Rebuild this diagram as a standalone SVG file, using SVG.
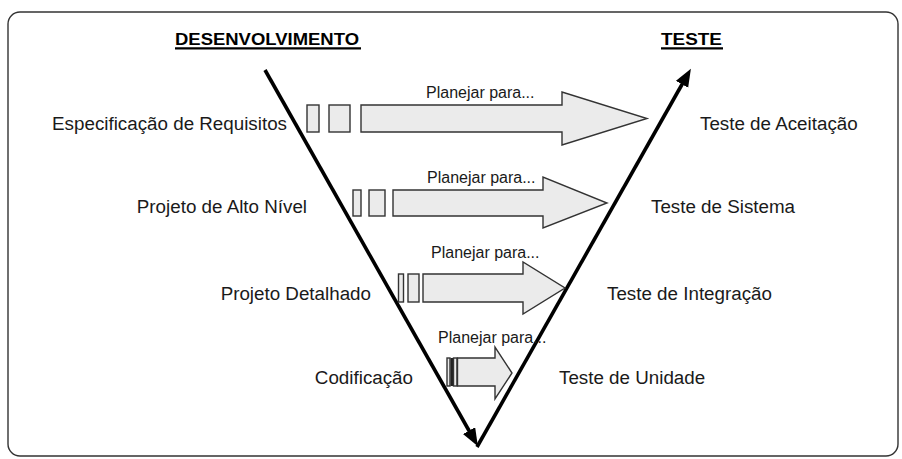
<svg xmlns="http://www.w3.org/2000/svg" width="902" height="459" viewBox="0 0 902 459">
<defs>
<style>
.lbl{font-family:"Liberation Sans",Arial,sans-serif;font-size:18.8px;fill:#1a1a1a}
.plan{font-family:"Liberation Sans",Arial,sans-serif;font-size:16px;fill:#1a1a1a}
.hdr{font-family:"Liberation Sans",Arial,sans-serif;font-size:16.5px;font-weight:bold;fill:#000}
.ul{stroke:#000;stroke-width:2.2}
.box{fill:#ebebeb;stroke:#333;stroke-width:1.4}
.arr{fill:#ebebeb;stroke:#333;stroke-width:1.4;stroke-linejoin:miter}
.vline{fill:none;stroke:#000;stroke-width:3.6}
</style>
<marker id="head" markerUnits="userSpaceOnUse" markerWidth="20" markerHeight="16" refX="5" refY="7" orient="auto">
<path d="M0,0 L18,7 L0,14 z" fill="#000"/>
</marker>
</defs>
<rect x="8" y="12" width="890" height="444" rx="12" ry="12" fill="#fff" stroke="#333" stroke-width="1.4"/>
<g id="hdr-dev">
<text class="hdr" x="175" y="44.5" textLength="184" lengthAdjust="spacingAndGlyphs">DESENVOLVIMENTO</text>
<line class="ul" x1="175" y1="48.3" x2="361" y2="48.3"/>
</g>
<g id="hdr-test">
<text class="hdr" x="661" y="44.5" textLength="61" lengthAdjust="spacingAndGlyphs">TESTE</text>
<line class="ul" x1="661" y1="48.3" x2="723" y2="48.3"/>
</g>
<g id="connectors">
<path class="vline" d="M265,70 L471.5,435" marker-end="url(#head)"/>
<path class="vline" d="M477,447 L684.5,80" marker-end="url(#head)"/>
</g>
<g id="row1">
<text class="lbl" x="287" y="130" text-anchor="end">Especificação de Requisitos</text>
<rect class="box" x="307" y="105" width="12" height="27"/>
<rect class="box" x="329" y="105" width="21" height="27"/>
<path class="arr" d="M361,105 L562,105 L562,92 L647,118.5 L562,145 L562,132 L361,132 z"/>
<text class="plan" x="426" y="98">Planejar para...</text>
<text class="lbl" x="700" y="130">Teste de Aceitação</text>
</g>
<g id="row2">
<text class="lbl" x="307" y="213" text-anchor="end">Projeto de Alto Nível</text>
<rect class="box" x="353" y="190" width="8" height="26"/>
<rect class="box" x="369" y="190" width="16" height="26"/>
<path class="arr" d="M393,190 L543,190 L543,177 L607,203 L543,228 L543,216 L393,216 z"/>
<text class="plan" x="427" y="183">Planejar para...</text>
<text class="lbl" x="651" y="213">Teste de Sistema</text>
</g>
<g id="row3">
<text class="lbl" x="371" y="299.5" text-anchor="end">Projeto Detalhado</text>
<rect class="box" x="398.5" y="274" width="5" height="28"/>
<rect class="box" x="408" y="274" width="11" height="28"/>
<path class="arr" d="M423,274 L523,274 L523,262 L565,288 L523,314 L523,302 L423,302 z"/>
<text class="plan" x="431" y="258">Planejar para...</text>
<text class="lbl" x="607" y="300">Teste de Integração</text>
</g>
<g id="row4">
<text class="lbl" x="413" y="383.5" text-anchor="end">Codificação</text>
<rect class="box" x="447" y="358" width="3" height="28"/>
<rect x="450.5" y="358" width="2.5" height="28" fill="#222"/>
<rect class="box" x="453.5" y="358" width="3.5" height="28"/>
<path class="arr" d="M457.5,358 L495,358 L495,347 L512,373 L495,399 L495,386 L457.5,386 z"/>
<text class="plan" x="438" y="343">Planejar para...</text>
<text class="lbl" x="559" y="384">Teste de Unidade</text>
</g>
</svg>
